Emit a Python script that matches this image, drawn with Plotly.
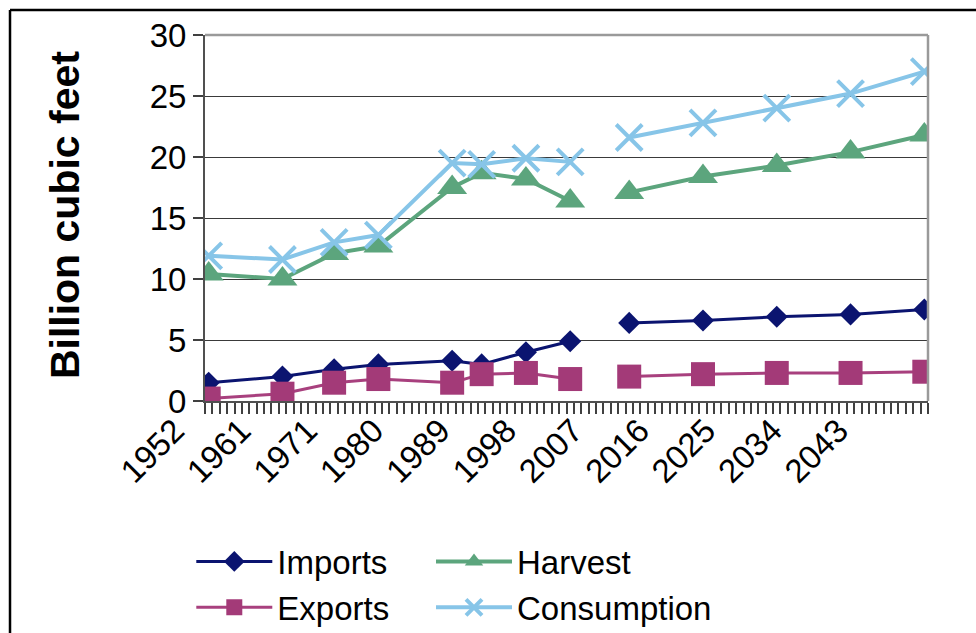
import plotly.graph_objects as go

# Category axis: one slot per year (1963 is not part of the series)
categories = [str(y) for y in list(range(1952, 1963)) + list(range(1964, 2051))]

# Observed years and projection years (lines break between the two periods)
hist_years = ["1952", "1962", "1970", "1976", "1986", "1990", "1996", "2002"]
proj_years = ["2010", "2020", "2030", "2040", "2050"]

# Billion cubic feet
imports_hist = [1.5, 2.0, 2.6, 3.0, 3.3, 3.0, 4.0, 4.9]
imports_proj = [6.4, 6.6, 6.9, 7.1, 7.5]

exports_hist = [0.2, 0.6, 1.5, 1.8, 1.5, 2.2, 2.3, 1.8]
exports_proj = [2.0, 2.2, 2.3, 2.3, 2.4]

harvest_hist = [10.4, 10.0, 12.1, 12.7, 17.5, 18.7, 18.2, 16.4]
harvest_proj = [17.1, 18.4, 19.3, 20.4, 21.8]

consumption_hist = [11.9, 11.6, 13.0, 13.6, 19.5, 19.4, 19.9, 19.6]
consumption_proj = [21.6, 22.8, 24.0, 25.2, 27.0]

FONT = "Liberation Sans, Arial, sans-serif"

series = [
    # name, hist, proj, line colour, marker colour, symbol, marker size, line width, legend
    ("Imports", imports_hist, imports_proj, "#0b1470", "#0b1470", "diamond", 17, 3, "legend"),
    ("Exports", exports_hist, exports_proj, "#a8407e", "#a33a78", "square", 24, 3, "legend"),
    ("Harvest", harvest_hist, harvest_proj, "#5ca57d", "#5ca57d", "triangle-up", 26, 4, "legend2"),
    ("Consumption", consumption_hist, consumption_proj, "#87c5e8", "#87c5e8", "x-thin", 26, 4, "legend2"),
]

fig = go.Figure()
for name, hist, proj, color, mcolor, symbol, msize, lw, leg in series:
    marker = dict(symbol=symbol, size=msize, color=mcolor,
                  line=dict(color=mcolor, width=4 if symbol == "x-thin" else 0))
    for i, (xs, ys) in enumerate([(hist_years, hist), (proj_years, proj)]):
        fig.add_trace(go.Scatter(
            x=xs, y=ys, name=name, mode="lines+markers",
            line=dict(color=color, width=lw), marker=marker,
            legendgroup=name, showlegend=(i == 0), legend=leg,
        ))

# two legend columns placed below the axis
legend_style = dict(orientation="v", xref="container", yref="container",
                    xanchor="left", yanchor="middle", y=0.0766,
                    font=dict(size=33, family=FONT), itemwidth=76,
                    tracegroupgap=0, bgcolor="rgba(0,0,0,0)")

fig.update_layout(
    width=976, height=633,
    margin=dict(l=205, r=48, t=35, b=232, autoexpand=False),
    paper_bgcolor="white", plot_bgcolor="white",
    font=dict(family=FONT, color="black"),
    xaxis=dict(
        type="category", categoryorder="array", categoryarray=categories,
        range=[-0.5, len(categories) - 0.5], automargin=False,
        tickmode="linear", tick0=0, dtick=1, ticklabelstep=9,
        tickson="boundaries", ticks="outside", ticklen=11, tickwidth=1.5,
        tickcolor="#404040", tickangle=-45,
        ticklabelshift=-34, ticklabelstandoff=-5,
        tickfont=dict(size=33, family=FONT),
        showgrid=False, showline=True, linecolor="#505050", linewidth=2,
        zeroline=False,
    ),
    yaxis=dict(
        range=[0, 30], dtick=5, tick0=0, automargin=False,
        ticks="outside", ticklen=10, tickwidth=1.5, tickcolor="#404040",
        tickfont=dict(size=33, family=FONT),
        showgrid=True, gridcolor="#3a3a3a", gridwidth=1.2,
        showline=True, linecolor="#505050", linewidth=2, zeroline=False,
    ),
    legend=dict(x=0.196, **legend_style),
    legend2=dict(x=0.4416, **legend_style),
    annotations=[
        # y-axis title
        dict(text="<b>Billion cubic feet</b>", textangle=-90, showarrow=False,
             xref="paper", yref="paper", x=-0.1936, y=0.508,
             xanchor="center", yanchor="middle",
             font=dict(size=41, family=FONT, color="black")),
    ],
    shapes=[
        # grey top and right edges of the plotting area
        dict(type="line", xref="paper", yref="paper", x0=0, x1=1, y0=1, y1=1,
             line=dict(color="#9a9a9a", width=2.5), layer="above"),
        dict(type="line", xref="paper", yref="paper", x0=1, x1=1, y0=0, y1=1,
             line=dict(color="#9a9a9a", width=2.5), layer="above"),
        # outer frame (left and top edges)
        dict(type="line", xref="paper", yref="paper", x0=-0.2697, x1=1.2, y0=1.0683, y1=1.0683,
             line=dict(color="black", width=2.5)),
        dict(type="line", xref="paper", yref="paper", x0=-0.2697, x1=-0.2697, y0=1.0683, y1=-1,
             line=dict(color="black", width=2.5)),
    ],
)

fig.write_html("out.html")
